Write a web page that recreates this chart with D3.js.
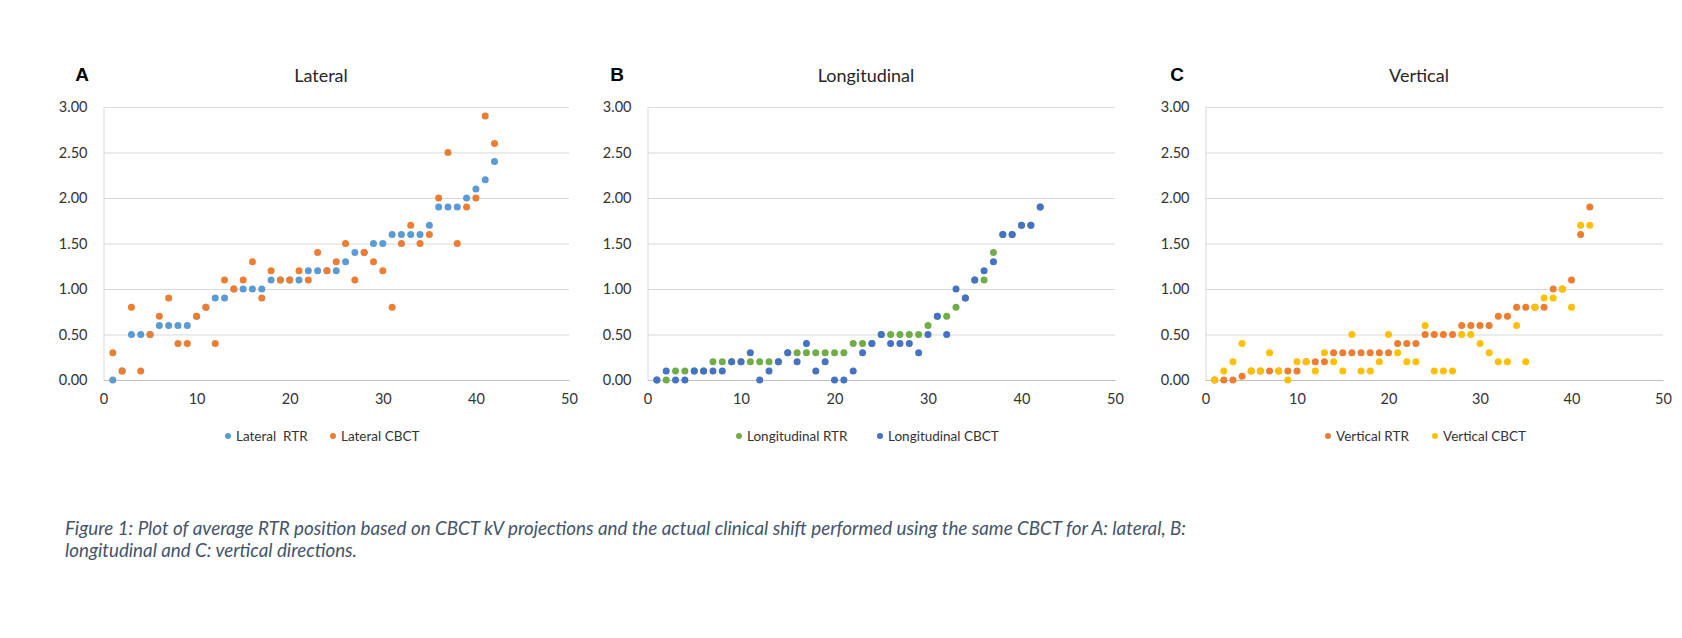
<!DOCTYPE html>
<html>
<head>
<meta charset="utf-8">
<script src="https://cdnjs.cloudflare.com/ajax/libs/d3/7.8.5/d3.min.js"></script>
<style>
  body { margin: 0; background: #fff; }
  svg text { font-family: Lato, "Open Sans", sans-serif; }
</style>
</head>
<body>
<div id="chart"></div>
<script>
// patient index (x) and tick labels
const patients = d3.range(1, 43)
const xTicks = [0, 10, 20, 30, 40, 50]
const yTicks = [0, 0.5, 1, 1.5, 2, 2.5, 3]

// A: lateral
const lateralRTR = [0.0, 0.1, 0.5, 0.5, 0.5, 0.6, 0.6, 0.6, 0.6, 0.7,
                    0.8, 0.9, 0.9, 1.0, 1.0, 1.0, 1.0, 1.1, 1.1, 1.1,
                    1.1, 1.2, 1.2, 1.2, 1.2, 1.3, 1.4, 1.4, 1.5, 1.5,
                    1.6, 1.6, 1.6, 1.6, 1.7, 1.9, 1.9, 1.9, 2.0, 2.1,
                    2.2, 2.4]
const lateralCBCT = [0.3, 0.1, 0.8, 0.1, 0.5, 0.7, 0.9, 0.4, 0.4, 0.7,
                     0.8, 0.4, 1.1, 1.0, 1.1, 1.3, 0.9, 1.2, 1.1, 1.1,
                     1.2, 1.1, 1.4, 1.2, 1.3, 1.5, 1.1, 1.4, 1.3, 1.2,
                     0.8, 1.5, 1.7, 1.5, 1.6, 2.0, 2.5, 1.5, 1.9, 2.0,
                     2.9, 2.6]

// B: longitudinal
const longitudinalRTR = [0.0, 0.0, 0.1, 0.1, 0.1, 0.1, 0.2, 0.2, 0.2, 0.2,
                         0.2, 0.2, 0.2, 0.2, 0.3, 0.3, 0.3, 0.3, 0.3, 0.3,
                         0.3, 0.4, 0.4, 0.4, 0.5, 0.5, 0.5, 0.5, 0.5, 0.6,
                         0.7, 0.7, 0.8, 0.9, 1.1, 1.1, 1.4, 1.6, 1.6, 1.7,
                         1.7, 1.9]
const longitudinalCBCT = [0.0, 0.1, 0.0, 0.0, 0.1, 0.1, 0.1, 0.1, 0.2, 0.2,
                          0.3, 0.0, 0.1, 0.2, 0.3, 0.2, 0.4, 0.1, 0.2, 0.0,
                          0.0, 0.1, 0.3, 0.4, 0.5, 0.4, 0.4, 0.4, 0.3, 0.5,
                          0.7, 0.5, 1.0, 0.9, 1.1, 1.2, 1.3, 1.6, 1.6, 1.7,
                          1.7, 1.9]

// C: vertical
const verticalRTR = [0.0, 0.0, 0.0, 0.04, 0.1, 0.1, 0.1, 0.1, 0.1, 0.1,
                     0.2, 0.2, 0.2, 0.3, 0.3, 0.3, 0.3, 0.3, 0.3, 0.3,
                     0.4, 0.4, 0.4, 0.5, 0.5, 0.5, 0.5, 0.6, 0.6, 0.6,
                     0.6, 0.7, 0.7, 0.8, 0.8, 0.8, 0.8, 1.0, 1.0, 1.1,
                     1.6, 1.9]
const verticalCBCT = [0.0, 0.1, 0.2, 0.4, 0.1, 0.1, 0.3, 0.1, 0.0, 0.2,
                      0.2, 0.1, 0.3, 0.2, 0.1, 0.5, 0.1, 0.1, 0.2, 0.5,
                      0.3, 0.2, 0.2, 0.6, 0.1, 0.1, 0.1, 0.5, 0.5, 0.4,
                      0.3, 0.2, 0.2, 0.6, 0.2, 0.8, 0.9, 0.9, 1.0, 0.8,
                      1.7, 1.7]

const caption1 = 'Figure 1: Plot of average RTR position based on CBCT kV projections and the actual clinical shift performed using the same CBCT for A: lateral, B:'
const caption2 = 'longitudinal and C: vertical directions.'

// panel layout
const W = 1682, H = 638
const plotTop = 107, plotBottom = 380
const r = 3.5

const panels = [
  {letter: 'A', title: 'Lateral', left: 103.5, right: 569, letterX: 82, titleX: 321,
   series: [{name: 'Lateral  RTR', values: lateralRTR, color: '#5B9BD5', lx: 228},
            {name: 'Lateral CBCT', values: lateralCBCT, color: '#ED7D31', lx: 333}]},
  {letter: 'B', title: 'Longitudinal', left: 647.5, right: 1115, letterX: 617, titleX: 866,
   series: [{name: 'Longitudinal RTR', values: longitudinalRTR, color: '#70AD47', lx: 739},
            {name: 'Longitudinal CBCT', values: longitudinalCBCT, color: '#4472C4', lx: 880}]},
  {letter: 'C', title: 'Vertical', left: 1205.5, right: 1663, letterX: 1177, titleX: 1419,
   series: [{name: 'Vertical RTR', values: verticalRTR, color: '#ED7D31', lx: 1328},
            {name: 'Vertical CBCT', values: verticalCBCT, color: '#FFC000', lx: 1435}]}
]

const svg = d3.select('#chart')
              .append('svg')
              .attr('width', W)
              .attr('height', H)

svg.append('rect').attr('width', W).attr('height', H).attr('fill', '#fff')

const yScale = d3.scaleLinear().domain([0, 3]).range([plotBottom, plotTop])

panels.forEach(p => {
  const xScale = d3.scaleLinear().domain([0, 50]).range([p.left, p.right])
  const g = svg.append('g')

  // gridlines + y labels
  const yAxis = d3.axisLeft(yScale)
                  .tickValues(yTicks)
                  .tickFormat(d3.format('.2f'))
                  .tickSize(-(p.right - p.left))
                  .tickPadding(16)
  const ya = g.append('g')
              .attr('transform', 'translate(' + p.left + ',0)')
              .call(yAxis)
  ya.select('.domain').attr('stroke', '#D9D9D9')
  ya.selectAll('.tick line').attr('stroke', '#D9D9D9').attr('stroke-width', 1.2)
  ya.selectAll('.tick text').attr('fill', '#333').style('font-size', '14.5px')

  // x axis
  const xAxis = d3.axisBottom(xScale).tickValues(xTicks).tickSize(0).tickPadding(14)
  const xa = g.append('g')
              .attr('transform', 'translate(0,' + plotBottom + ')')
              .call(xAxis)
  xa.select('.domain').attr('stroke', '#BFBFBF').attr('stroke-width', 1.2)
  xa.selectAll('.tick text').attr('fill', '#333').style('font-size', '14.5px')

  // points
  p.series.forEach(s => {
    g.append('g')
     .selectAll('circle')
     .data(s.values)
     .enter()
     .append('circle')
     .attr('cx', (d, i) => xScale(patients[i]))
     .attr('cy', d => yScale(d))
     .attr('r', r)
     .attr('fill', s.color)

    // legend
    g.append('circle')
     .attr('cx', s.lx).attr('cy', 436).attr('r', 3).attr('fill', s.color)
    g.append('text')
     .attr('x', s.lx + 8).attr('y', 440.5)
     .attr('fill', '#333')
     .style('font-size', '13.5px')
     .style('white-space', 'pre')
     .text(s.name)
  })

  // titles
  g.append('text')
   .attr('x', p.letterX).attr('y', 81)
   .attr('text-anchor', 'middle')
   .style('font-family', '"Liberation Sans", Arial, sans-serif')
   .style('font-weight', 'bold')
   .style('font-size', '19px')
   .text(p.letter)
  g.append('text')
   .attr('x', p.titleX).attr('y', 82)
   .attr('text-anchor', 'middle')
   .attr('fill', '#262626')
   .style('font-size', '18px')
   .text(p.title)
})

// caption
svg.append('text')
   .attr('x', 65).attr('y', 535)
   .attr('fill', '#44546A')
   .style('font-style', 'italic')
   .style('font-size', '18.5px')
   .attr('textLength', 1121)
   .attr('lengthAdjust', 'spacingAndGlyphs')
   .text(caption1)
svg.append('text')
   .attr('x', 65).attr('y', 557)
   .attr('fill', '#44546A')
   .style('font-style', 'italic')
   .style('font-size', '18.5px')
   .attr('textLength', 292)
   .attr('lengthAdjust', 'spacingAndGlyphs')
   .text(caption2)
</script>
</body>
</html>
